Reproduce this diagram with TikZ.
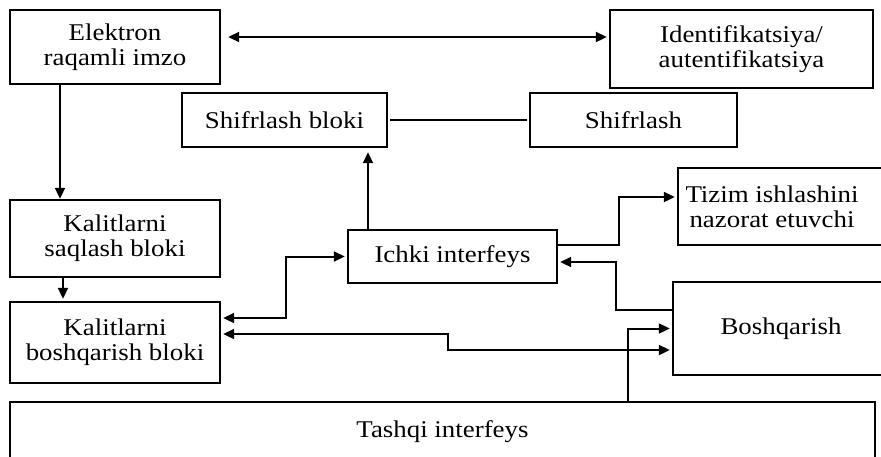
\documentclass[tikz,border=0pt]{standalone}
\usepackage{fontspec}
\setmainfont{Liberation Serif}[FakeStretch=1.12]
\usetikzlibrary{arrows.meta, positioning}

\begin{document}
\begin{tikzpicture}[
    x=0.5pt, y=-0.5pt,
    box/.style={draw, line width=1.2pt, align=center, inner sep=0pt},
    txt/.style={align=center, inner sep=0pt},
    link/.style={line width=1pt, shorten >=1pt, shorten <=1pt},
    every node/.style={font=\fontsize{12}{12.5}\selectfont},
    >={Triangle[length=5.5pt,width=5pt]}
]
\useasboundingbox (0,0) rectangle (881,456);
\clip (0,0) rectangle (881,456);

\node (esign) [box, minimum width=105pt, minimum height=37pt] at (115,47) {Elektron\\raqamli imzo};
\node (ident) [box, minimum width=131.5pt, minimum height=39pt] at (741.5,49) {Identifikatsiya/\\autentifikatsiya};
\node (shbloki) [box, minimum width=102.5pt, minimum height=27pt] at (284.5,120) {Shifrlash bloki};
\node (shifr) [box, minimum width=103.5pt, minimum height=27pt] at (633.5,120) {Shifrlash};
\node (saqlash) [box, minimum width=105pt, minimum height=38.5pt] at (115,238.5) {Kalitlarni\\saqlash bloki};
\node (ichki) [box, minimum width=104.5pt, minimum height=26.5pt] at (452.5,256.5) {Ichki interfeys};
\node (tizim) [box, minimum width=112pt, minimum height=38.5pt] at (790,206.5) {};
\node (tizimtxt) [txt] at (772,206.5) {Tizim ishlashini\\nazorat etuvchi};
\node (boshq) [box, minimum width=108pt, minimum height=46.5pt] at (781,328.5) {Boshqarish};
\node (kboshq) [box, minimum width=105pt, minimum height=40.5pt] at (115,342.5) {Kalitlarni\\boshqarish bloki};
\node (tashqi) [box, minimum width=432.5pt, minimum height=30pt] at (442.5,432) {Tashqi interfeys};

% yuqori qator
\coordinate (a1) at ([yshift=5pt]esign.east);
\draw[link, <->, shorten <=3.5pt] (a1) -- (a1 -| ident.west);
\draw[link] (shbloki) -- (shifr);

% chap ustun
\draw[link, ->, shorten <=0pt, shorten >=0pt] ([xshift=-27.5pt]esign.south) -- ([xshift=-27.5pt]saqlash.north);
\draw[link, ->, shorten <=0pt] ([xshift=-26pt]saqlash.south) -- ([xshift=-26pt]kboshq.north);

% ichki interfeys
\coordinate (a2) at ([xshift=41.75pt]shbloki.south);
\draw[link, ->, shorten >=2pt, shorten <=0pt] (a2 |- ichki.north) -- (a2);
\draw[link, <->] (ichki.west) -- ++(-61,0) |- ([yshift=12.25pt]kboshq.east);
\draw[link, ->, shorten <=0pt] ([yshift=5.75pt]ichki.east) -- ++(61,0) |- ([yshift=4.75pt]tizim.west);
\draw[link, ->, shorten <=0pt] ([yshift=9.25pt]boshq.west) -- ++(-56,0) |- ([yshift=-2.75pt]ichki.east);

% boshqarish
\draw[link, <->] ([yshift=4.25pt]kboshq.east) -- ++(227,0) |- ([yshift=-10.75pt]boshq.west);
\draw[link, ->, shorten <=0pt] ([xshift=92.75pt]tashqi.north) |- (boshq.west);

\end{tikzpicture}
\end{document}
